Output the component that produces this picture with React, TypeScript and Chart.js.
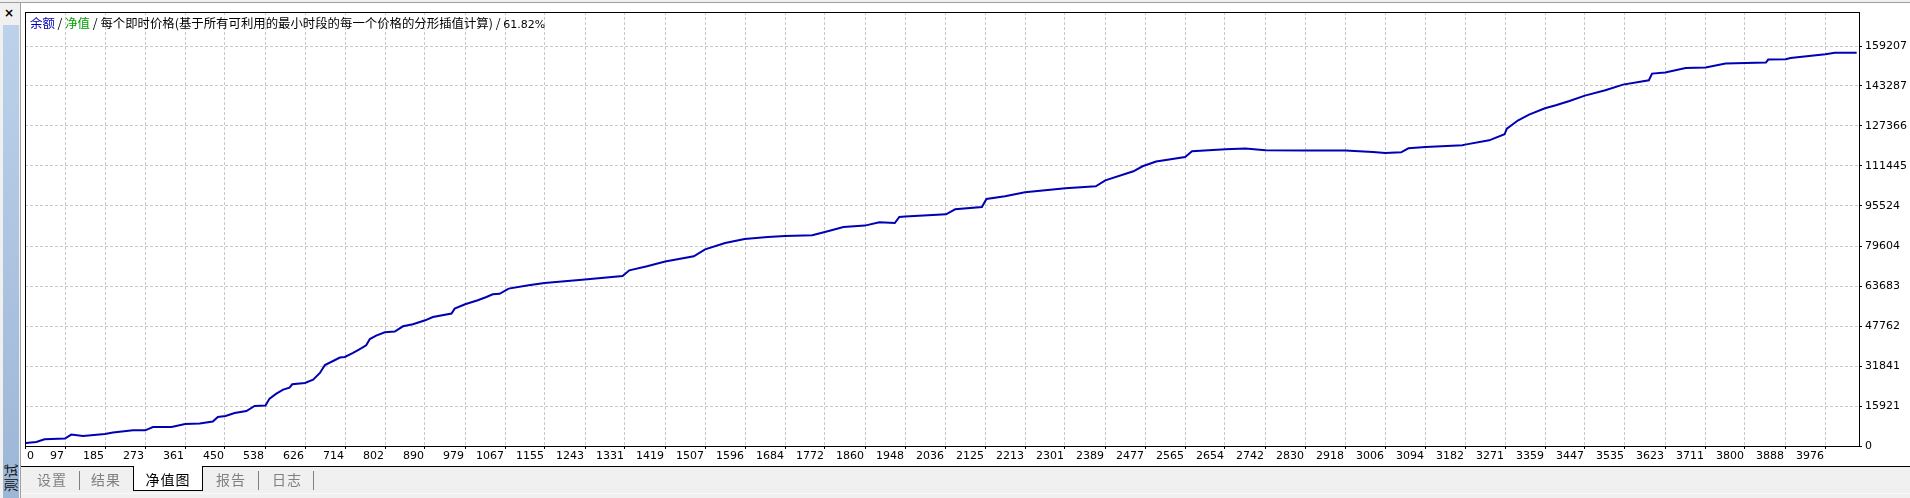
import React, { useEffect, useRef } from 'react';
import { Chart, registerables } from 'chart.js';

Chart.register(...registerables);

// ---- data ----
const tradeNumbers = [
  2, 25, 43, 88, 102, 128, 176, 194, 238, 265, 282, 323, 353, 385, 414, 425, 442, 462, 488, 506,
  530, 539, 554, 569, 583, 589, 617, 635, 650, 661, 679, 694, 705, 723, 736, 752, 760, 774, 793, 815,
  833, 855, 882, 899, 940, 947, 970, 998, 1017, 1031, 1046, 1066, 1110, 1145, 1234, 1317, 1332, 1371, 1411, 1474,
  1499, 1543, 1586, 1637, 1675, 1735, 1763, 1804, 1851, 1883, 1917, 1927, 1940, 2030, 2050, 2109, 2119, 2160, 2204, 2293,
  2360, 2381, 2443, 2463, 2493, 2557, 2572, 2646, 2690, 2734, 2822, 2910, 2971, 2998, 3033, 3049, 3087, 3168, 3174, 3227,
  3261, 3266, 3291, 3315, 3350, 3374, 3404, 3438, 3483, 3522, 3579, 3586, 3615, 3660, 3704, 3748, 3792, 3837, 3842, 3881,
  3891, 3968, 3989, 4037,
];
const balanceValues = [
  1190, 1590, 2670, 2950, 4540, 3980, 4780, 5330, 6250, 6250, 7560, 7560, 8760, 8920, 9710, 11540, 11940, 13140, 13930, 15920,
  16080, 18870, 20860, 22450, 23250, 24560, 25080, 26430, 29060, 32240, 33830, 35190, 35420, 37020, 38370, 40080, 42590, 43940, 45260, 45530,
  47640, 48440, 50030, 51350, 52700, 54690, 56400, 57990, 59310, 60380, 60580, 62650, 63960, 64880, 66230, 67660, 69930, 71520, 73400, 75500,
  78290, 80800, 82390, 83190, 83580, 83860, 85180, 87170, 87720, 89040, 88760, 91150, 91310, 92220, 94210, 95130, 98310, 99390, 100980, 102570,
  103370, 105750, 109340, 111330, 113200, 115030, 117300, 118090, 118370, 117690, 117580, 117580, 117020, 116620, 116900, 118490, 119010, 119680, 119960, 121670,
  124060, 126330, 129630, 131900, 134410, 135610, 137320, 139470, 141580, 143840, 145560, 148220, 148620, 150450, 150610, 152200, 152440, 152600, 153790, 153910,
  154430, 155900, 156500, 156500,
];
const xTickLabels = [
  '0', '97', '185', '273', '361', '450', '538', '626', '714', '802', '890', '979', '1067', '1155', '1243', '1331',
  '1419', '1507', '1596', '1684', '1772', '1860', '1948', '2036', '2125', '2213', '2301', '2389', '2477', '2565',
  '2654', '2742', '2830', '2918', '3006', '3094', '3182', '3271', '3359', '3447', '3535', '3623', '3711', '3800',
  '3888', '3976',
];
const yTickLabels = [
  '0', '15921', '31841', '47762', '63683', '79604', '95524', '111445', '127366', '143287', '159207',
];
const X_STEP = 88.16;
const Y_STEP = 15920.7;
const X_MAX = X_STEP * 45.85;
const Y_MAX = Y_STEP * 10.85;

const tabs = [
  { label: '设置', center: 52 },
  { label: '结果', center: 106 },
  { label: '净值图', center: 168, active: true },
  { label: '报告', center: 231 },
  { label: '日志', center: 287 },
];
const separators = [79, 258, 313];

const NUM_FONT = '"DejaVu Sans", sans-serif';
const CJK_FONT = '"Noto Sans CJK SC", "Noto Sans", sans-serif';

const framePlugin = {
  id: 'mt4frame',
  afterDraw(chart: any) {
    const { ctx, chartArea: a, scales } = chart;
    const x = scales.x;
    ctx.save();
    ctx.strokeStyle = '#000';
    ctx.lineWidth = 1;
    ctx.strokeRect(a.left + 0.5, a.top + 0.5, a.right - a.left, a.bottom - a.top);
    ctx.font = `11px ${NUM_FONT}`;
    ctx.fillStyle = '#000';
    ctx.textBaseline = 'middle';
    xTickLabels.forEach((lab, i) => {
      const px = Math.round(x.getPixelForValue(i * X_STEP));
      if (i === 0) {
        ctx.textAlign = 'left';
        ctx.fillText(lab, px + 2, a.bottom + 10.5);
      } else {
        ctx.textAlign = 'right';
        ctx.fillText(lab, px - 1, a.bottom + 10.5);
      }
    });
    ctx.restore();
  },
};

function EquityChart() {
  const ref = useRef<HTMLCanvasElement | null>(null);
  useEffect(() => {
    if (!ref.current) return;
    const points = tradeNumbers.map((t, i) => ({ x: t, y: balanceValues[i] }));
    const chart = new Chart(ref.current, {
      type: 'line',
      data: {
        datasets: [
          {
            label: '余额',
            data: points,
            borderColor: '#0000b4',
            borderWidth: 2,
            pointRadius: 0,
            tension: 0,
            fill: false,
          },
        ],
      },
      options: {
        animation: false,
        responsive: false,
        maintainAspectRatio: false,
        devicePixelRatio: 1,
        layout: { padding: { left: 25, top: 12, right: 0, bottom: 0 } },
        plugins: {
          legend: { display: false },
          tooltip: { enabled: false },
          title: { display: false },
        },
        scales: {
          x: {
            type: 'linear',
            position: 'bottom',
            min: 0,
            max: X_MAX,
            afterBuildTicks: (s: any) => {
              s.ticks = xTickLabels.map((_, i) => ({ value: i * X_STEP }));
            },
            afterFit: (s: any) => {
              s.height = 20;
            },
            ticks: { display: false },
            grid: { color: '#c8c8c8', tickColor: '#000', tickLength: 3, drawTicks: true },
            border: { display: false, dash: [3, 2] },
          },
          y: {
            type: 'linear',
            position: 'right',
            min: 0,
            max: Y_MAX,
            afterBuildTicks: (s: any) => {
              s.ticks = yTickLabels.map((_, i) => ({ value: i * Y_STEP }));
            },
            afterFit: (s: any) => {
              s.width = 51;
            },
            ticks: {
              autoSkip: false,
              padding: 3,
              color: '#000',
              font: { family: NUM_FONT, size: 11 },
              callback: (_v: any, i: number) => yTickLabels[i],
            },
            grid: { color: '#c8c8c8', tickColor: '#000', tickLength: 3, drawTicks: true },
            border: { display: false, dash: [3, 2] },
          },
        },
      },
      plugins: [framePlugin],
    } as any);
    return () => chart.destroy();
  }, []);
  return (
    <canvas
      ref={ref}
      width={1910}
      height={466}
      style={{ position: 'absolute', left: 0, top: 0, width: 1910, height: 466, background: '#fff' }}
    />
  );
}

export default function App() {
  return (
    <div
      style={{
        position: 'fixed',
        left: 0,
        top: 0,
        width: 1910,
        height: 498,
        overflow: 'hidden',
        background: '#f0f0f0',
        fontFamily: CJK_FONT,
      }}
    >
      <EquityChart />
      {/* top band */}
      <div style={{ position: 'absolute', left: 0, top: 0, width: 1910, height: 2, background: '#f0f0f0', borderBottom: '1px solid #a0a0a0' }} />
      {/* title */}
      <div
        style={{
          position: 'absolute',
          left: 30,
          top: 15,
          fontSize: 12.4,
          lineHeight: '16px',
          whiteSpace: 'nowrap',
          color: '#000',
        }}
      >
        <span style={{ color: '#0000b4' }}>余额</span>
        <span> / </span>
        <span style={{ color: '#00a000' }}>净值</span>
        <span> / 每个即时价格(基于所有可利用的最小时段的每一个价格的分形插值计算) / </span>
        <span style={{ fontFamily: NUM_FONT, fontSize: 11 }}>61.82%</span>
      </div>
      {/* left strip */}
      <div style={{ position: 'absolute', left: 0, top: 3, width: 20, height: 495, background: '#f0f0f0', borderRight: '1px solid #a0a0a0' }}>
        <div style={{ position: 'absolute', left: 4, top: 3, fontFamily: NUM_FONT, fontSize: 12, fontWeight: 'bold', lineHeight: '14px', color: '#000' }}>
          ×
        </div>
        <div
          style={{
            position: 'absolute',
            left: 3,
            top: 22,
            width: 16,
            height: 473,
            background: 'linear-gradient(#bcd2ea, #9cb6d6)',
          }}
        />
        <div
          style={{
            position: 'absolute',
            left: -8,
            top: 466,
            width: 36,
            height: 18,
            transform: 'rotate(-90deg)',
            fontSize: 14,
            lineHeight: '18px',
            textAlign: 'center',
            whiteSpace: 'nowrap',
            color: '#101010',
          }}
        >
          测试
        </div>
      </div>
      {/* tab strip */}
      <div style={{ position: 'absolute', left: 21, top: 466, width: 1889, height: 1, background: '#000' }} />
      <div style={{ position: 'absolute', left: 21, top: 493, width: 1889, height: 1, background: '#fafafa' }} />
      {separators.map((sx) => (
        <div key={sx} style={{ position: 'absolute', left: sx, top: 471, width: 1, height: 19, background: '#808080' }} />
      ))}
      <div
        style={{
          position: 'absolute',
          left: 133,
          top: 466,
          width: 68,
          height: 24,
          background: '#fff',
          borderLeft: '1px solid #000',
          borderRight: '1px solid #000',
          borderBottom: '1px solid #000',
        }}
      />
      {tabs.map((t) => (
        <div
          key={t.label}
          style={{
            position: 'absolute',
            left: t.center - 40,
            top: 469,
            width: 80,
            textAlign: 'center',
            fontSize: 14,
            lineHeight: '20px',
            letterSpacing: 1,
            color: t.active ? '#000' : '#808080',
          }}
        >
          {t.label}
        </div>
      ))}
    </div>
  );
}
